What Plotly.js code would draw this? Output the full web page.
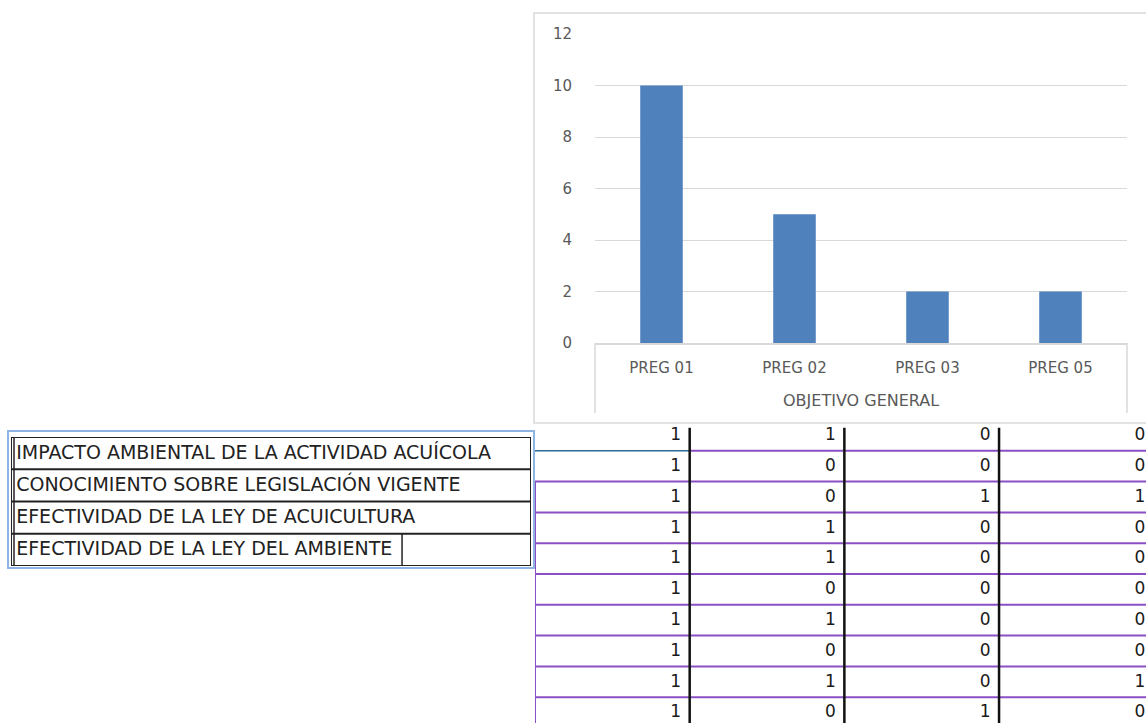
<!DOCTYPE html>
<html><head><meta charset="utf-8">
<script src="https://cdn.plot.ly/plotly-3.0.1.min.js"></script>
<style>html,body{margin:0;padding:0;background:#fff}#c{width:1146px;height:723px}</style>
</head><body><div id="c"></div>
<script>
// ---- data ----
const categories = ['PREG 01', 'PREG 02', 'PREG 03', 'PREG 05'];
const counts = [10, 5, 2, 2];
const groupLabel = 'OBJETIVO GENERAL';
const yTicks = [0, 2, 4, 6, 8, 10, 12];
const rowLabels = [
  'IMPACTO AMBIENTAL DE LA ACTIVIDAD ACUÍCOLA',
  'CONOCIMIENTO SOBRE LEGISLACIÓN VIGENTE',
  'EFECTIVIDAD DE LA LEY DE ACUICULTURA',
  'EFECTIVIDAD DE LA LEY DEL AMBIENTE'
];
const col1 = [1, 1, 1, 1, 1, 1, 1, 1, 1, 1];
const col2 = [1, 0, 0, 1, 1, 0, 1, 0, 1, 0];
const col3 = [0, 0, 1, 0, 0, 0, 0, 0, 0, 1];
const col4 = [0, 0, 1, 0, 0, 0, 0, 0, 1, 0];

// ---- layout helpers ----
const W = 1146, H = 723;
const px = x => x / W, py = y => 1 - y / H;
const columns = [col1, col2, col3, col4];
const nRows = col1.length;
const tableRight = 3.95;

const traces = [];
traces.push({
  type: 'bar', x: categories, y: counts, xaxis: 'x', yaxis: 'y',
  marker: {color: '#4F81BD'}, hoverinfo: 'x+y'
});
// table numbers
const tx = [], ty = [], tt = [];
columns.forEach((col, ci) => col.forEach((v, ri) => {
  tx.push(ci + 1 - 0.055); ty.push(ri + 0.52); tt.push(String(v));
}));
traces.push({
  type: 'scatter', mode: 'text', x: tx, y: ty, text: tt, xaxis: 'x2', yaxis: 'y2',
  textposition: 'middle left', cliponaxis: false, hoverinfo: 'skip',
  textfont: {family: 'DejaVu Sans, Verdana, sans-serif', size: 17, color: '#1a1a1a'}
});
// left labels
traces.push({
  type: 'scatter', mode: 'text', x: rowLabels.map(() => 0.010), y: rowLabels.map((_, i) => i + 0.52),
  text: rowLabels, xaxis: 'x3', yaxis: 'y3', textposition: 'middle right', cliponaxis: false, hoverinfo: 'skip',
  textfont: {family: 'DejaVu Sans, sans-serif', size: 19, color: '#222'}
});

const shapes = [];
const gray = '#D9D9D9';
// chart frame
shapes.push({type: 'rect', xref: 'paper', yref: 'paper', x0: px(534), x1: px(1152), y0: py(423), y1: py(13), line: {color: gray, width: 1.5}});
// category box lines
shapes.push({type: 'line', xref: 'x domain', yref: 'paper', x0: 0, x1: 0, y0: py(343), y1: py(413), line: {color: gray, width: 1.5}});
shapes.push({type: 'line', xref: 'x domain', yref: 'paper', x0: 1, x1: 1, y0: py(343), y1: py(413), line: {color: gray, width: 1.5}});

// table lines
const purple = '#8A4FC4';
for (let r = 1; r <= nRows; r++) {
  if (r === 1) {
    shapes.push({type: 'line', xref: 'x2', yref: 'y2', x0: 0, x1: 1, y0: r, y1: r, line: {color: '#2E6A96', width: 1.5}});
    shapes.push({type: 'line', xref: 'x2', yref: 'y2', x0: 1, x1: tableRight, y0: r, y1: r, line: {color: purple, width: 2}});
  } else {
    shapes.push({type: 'line', xref: 'x2', yref: 'y2', x0: 0, x1: tableRight, y0: r, y1: r, line: {color: purple, width: 2}});
  }
}
shapes.push({type: 'line', xref: 'x2', yref: 'y2', x0: 0, x1: 0, y0: 2, y1: nRows, line: {color: purple, width: 2}});
for (let c = 1; c <= 3; c++) {
  shapes.push({type: 'line', xref: 'x2', yref: 'y2', x0: c, x1: c, y0: 0.25, y1: nRows, line: {color: '#111', width: 2.5}});
}

// left box
shapes.push({type: 'rect', xref: 'paper', yref: 'paper', x0: px(8), x1: px(534), y0: py(568), y1: py(431), line: {color: '#8DB4E2', width: 2}});
shapes.push({type: 'rect', xref: 'x3', yref: 'y3', x0: 0, x1: 1, y0: 0, y1: rowLabels.length, line: {color: '#222', width: 2}});
shapes.push({type: 'line', xref: 'paper', yref: 'y3', x0: px(14), x1: px(14), y0: 0, y1: rowLabels.length, line: {color: '#222', width: 1.5}});
for (let r = 1; r < rowLabels.length; r++) {
  shapes.push({type: 'line', xref: 'x3', yref: 'y3', x0: 0, x1: 1, y0: r, y1: r, line: {color: '#222', width: 2}});
}
shapes.push({type: 'line', xref: 'x3', yref: 'y3', x0: 0.752, x1: 0.752, y0: 3, y1: 4, line: {color: '#222', width: 1.5}});

const tickFont = {family: 'DejaVu Sans, Verdana, sans-serif', size: 15, color: '#595959'};
const hidden = {visible: false, fixedrange: true};
const layout = {
  width: W, height: H, margin: {l: 0, r: 0, t: 0, b: 0},
  paper_bgcolor: '#fff', plot_bgcolor: 'rgba(0,0,0,0)', showlegend: false,
  bargap: 0.68, font: tickFont,
  xaxis: {domain: [px(595), px(1127)], anchor: 'y', showline: true, linecolor: gray, linewidth: 1.5,
    showgrid: false, ticks: 'outside', ticklen: 10, tickcolor: 'rgba(0,0,0,0)', tickfont: tickFont, fixedrange: true},
  yaxis: {domain: [py(343), py(34)], anchor: 'x', range: [0, 12], tickvals: yTicks, showgrid: true, gridcolor: gray,
    gridwidth: 1, zeroline: false, showline: false, ticks: 'outside', ticklen: 19, tickcolor: 'rgba(0,0,0,0)',
    tickfont: tickFont, fixedrange: true},
  xaxis2: Object.assign({domain: [px(535), 1], anchor: 'y2', range: [0, tableRight]}, hidden),
  yaxis2: Object.assign({domain: [0, py(420)], anchor: 'x2', range: [(H - 420) / 30.8, 0]}, hidden),
  xaxis3: Object.assign({domain: [px(11), px(531)], anchor: 'y3', range: [0, 1]}, hidden),
  yaxis3: Object.assign({domain: [py(566), py(437)], anchor: 'x3', range: [rowLabels.length, 0]}, hidden),
  shapes: shapes,
  annotations: [{text: groupLabel, xref: 'x domain', yref: 'paper', x: 0.5, y: py(400), showarrow: false,
    font: {family: 'DejaVu Sans, Verdana, sans-serif', size: 16, color: '#595959'}, xanchor: 'center', yanchor: 'middle'}]
};
Plotly.newPlot('c', traces, layout, {staticPlot: true, displayModeBar: false});
</script></body></html>
